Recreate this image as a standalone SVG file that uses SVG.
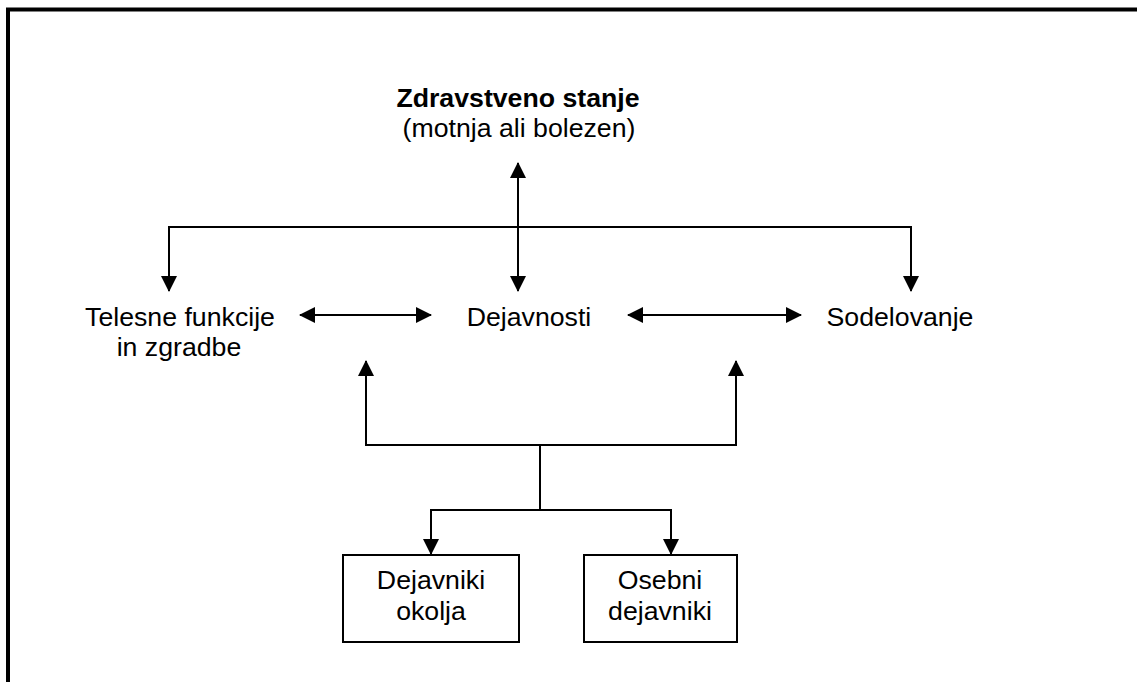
<svg xmlns="http://www.w3.org/2000/svg" width="1137" height="682" viewBox="0 0 1137 682">
  <style>
    .lbl { font-family: "Liberation Sans", Arial, sans-serif; font-size: 26.7px; fill: #000; text-anchor: middle; }
    .bold { font-weight: bold; }
    .wire { fill: none; stroke: #000; stroke-width: 2; }
    .box { fill: #fff; stroke: #000; stroke-width: 2; }
    .frame { fill: none; stroke: #000; stroke-width: 4; }
  </style>
  <defs>
    <marker id="arrow" viewBox="0 0 16 16" markerWidth="16" markerHeight="16" refX="15" refY="8" orient="auto-start-reverse" markerUnits="userSpaceOnUse">
      <path d="M0,0 L16,8 L0,16 Z" fill="#000"/>
    </marker>
  </defs>

  <rect width="1137" height="682" fill="#fff"/>
  <!-- outer frame, open to the right and bottom -->
  <rect class="frame" x="8" y="9.5" width="1200" height="800"/>

  <g id="connectors">
    <!-- health condition to the three components -->
    <line class="wire" x1="518" y1="291" x2="518" y2="163" marker-start="url(#arrow)" marker-end="url(#arrow)"/>
    <path class="wire" d="M169,291 V227 H911 V291" marker-start="url(#arrow)" marker-end="url(#arrow)"/>
    <!-- links between components -->
    <line class="wire" x1="300" y1="315" x2="431" y2="315" marker-start="url(#arrow)" marker-end="url(#arrow)"/>
    <line class="wire" x1="628" y1="315" x2="801" y2="315" marker-start="url(#arrow)" marker-end="url(#arrow)"/>
    <!-- contextual factors -->
    <path class="wire" d="M366,361 V445 H736 V361" marker-start="url(#arrow)" marker-end="url(#arrow)"/>
    <line class="wire" x1="540" y1="445" x2="540" y2="510"/>
    <path class="wire" d="M431,554 V510 H671 V554" marker-start="url(#arrow)" marker-end="url(#arrow)"/>
  </g>

  <g id="health-condition">
    <text class="lbl bold" x="518" y="107">Zdravstveno stanje</text>
    <text class="lbl" x="519" y="137">(motnja ali bolezen)</text>
  </g>

  <g id="body-functions">
    <text class="lbl" x="180" y="326">Telesne funkcije</text>
    <text class="lbl" x="179" y="356">in zgradbe</text>
  </g>

  <g id="activities">
    <text class="lbl" x="529" y="326">Dejavnosti</text>
  </g>

  <g id="participation">
    <text class="lbl" x="900" y="326">Sodelovanje</text>
  </g>

  <g id="environmental-factors">
    <rect class="box" x="343" y="555" width="176" height="87"/>
    <text class="lbl" x="431" y="589">Dejavniki</text>
    <text class="lbl" x="431" y="620">okolja</text>
  </g>

  <g id="personal-factors">
    <rect class="box" x="584" y="555" width="153" height="87"/>
    <text class="lbl" x="660" y="589">Osebni</text>
    <text class="lbl" x="660" y="620">dejavniki</text>
  </g>
</svg>
